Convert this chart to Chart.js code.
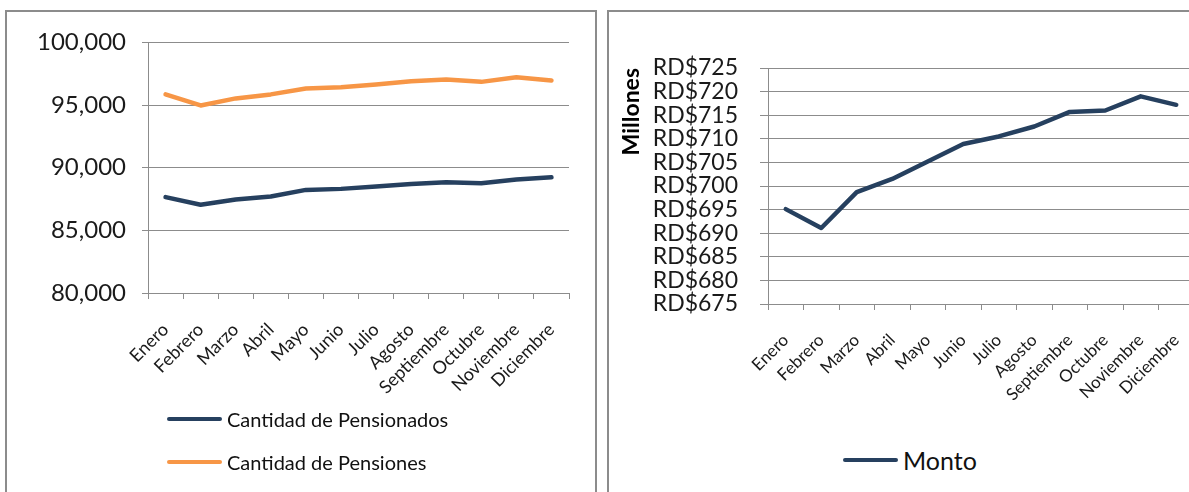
<!DOCTYPE html>
<html>
<head>
<meta charset="utf-8">
<script src="https://cdn.jsdelivr.net/npm/chart.js@4/dist/chart.umd.min.js"></script>
<style>
  body { margin: 0; width: 1189px; height: 492px; overflow: hidden; background: #fff; font-family: Lato, sans-serif; position: relative; }
  .box { position: absolute; top: 10px; height: 600px; border: 2px solid #8c8c8c; border-bottom: none; }
  #boxL { left: 5px; width: 588px; }
  #boxR { left: 607px; width: 640px; }
  canvas { position: absolute; left: 0; top: 0; }
  .legend { position: absolute; color: #111; }
  .legend .item { display: flex; align-items: center; white-space: nowrap; }
  .legend .swatch { display: inline-block; width: 55px; height: 4px; border-radius: 2px; margin-right: 5px; }
</style>
</head>
<body>
<div class="box" id="boxL"><canvas id="chartL" width="588" height="410"></canvas></div>
<div class="box" id="boxR"><canvas id="chartR" width="620" height="410"></canvas></div>
<div class="legend" id="legendL" style="left:167px; top:407px; font-size:20px;"></div>
<div class="legend" id="legendR" style="left:843px; top:445px; font-size:25px;"></div>
<script>
var meses = ['Enero', 'Febrero', 'Marzo', 'Abril', 'Mayo', 'Junio', 'Julio', 'Agosto', 'Septiembre', 'Octubre', 'Noviembre', 'Diciembre'];
var pensionados = [87650, 87040, 87460, 87700, 88230, 88310, 88490, 88700, 88840, 88760, 89050, 89230];
var pensiones = [95850, 94970, 95530, 95850, 96320, 96430, 96640, 96900, 97040, 96850, 97220, 96960];
var monto = [695.1, 691.1, 698.7, 701.5, 705.2, 708.9, 710.5, 712.6, 715.7, 716.0, 719.0, 717.2];

var navy = '#26405f';
var orange = '#f79646';
var gridColor = '#8c8c8c';
var textColor = '#1a1a1a';

Chart.defaults.font.family = 'Lato, sans-serif';
Chart.defaults.color = textColor;

function lineSet(label, data, color) {
    return {
        label: label,
        data: data,
        borderColor: color,
        backgroundColor: color,
        borderWidth: 4.5,
        pointRadius: 0,
        tension: 0,
        borderJoinStyle: 'round',
        borderCapStyle: 'round'
    };
}

function htmlLegend(chart, id) {
    var box = document.getElementById(id);
    chart.data.datasets.forEach(function (ds, i) {
        var item = document.createElement('div');
        item.className = 'item';
        if (i > 0) item.style.marginTop = '19px';
        item.innerHTML = '<span class="swatch" style="background:' + ds.borderColor + '"></span><span>' + ds.label + '</span>';
        box.appendChild(item);
    });
}

var chartL = new Chart(document.getElementById('chartL').getContext('2d'), {
    type: 'line',
    data: {
        labels: meses,
        datasets: [
            lineSet('Cantidad de Pensionados', pensionados, navy),
            lineSet('Cantidad de Pensiones', pensiones, orange)
        ]
    },
    options: {
        responsive: false,
        animation: false,
        layout: { padding: { top: 29, right: 26, left: 0, bottom: 0 } },
        plugins: { legend: { display: false }, tooltip: { enabled: false } },
        scales: {
            x: {
                offset: true,
                grid: { offset: true, drawOnChartArea: false, tickLength: 6, color: gridColor },
                border: { color: gridColor },
                ticks: { minRotation: 45, maxRotation: 45, autoSkip: false, padding: 20, font: { size: 18 } },
                afterFit: function (s) { s.height = 129; }
            },
            y: {
                min: 80000,
                max: 100000,
                grid: { color: gridColor, tickLength: 6 },
                border: { color: gridColor },
                ticks: {
                    stepSize: 5000,
                    padding: 16,
                    font: { size: 24 },
                    callback: function (v) { return v.toLocaleString('en-US'); }
                },
                afterFit: function (s) { s.width = 141; }
            }
        }
    }
});
htmlLegend(chartL, 'legendL');

var chartR = new Chart(document.getElementById('chartR').getContext('2d'), {
    type: 'line',
    data: {
        labels: meses,
        datasets: [lineSet('Monto', monto, navy)]
    },
    options: {
        responsive: false,
        animation: false,
        layout: { padding: { top: 56, right: 35, left: 0, bottom: 0 } },
        plugins: { legend: { display: false }, tooltip: { enabled: false } },
        scales: {
            x: {
                offset: true,
                grid: { offset: true, drawOnChartArea: false, tickLength: 6, color: gridColor },
                border: { color: gridColor },
                ticks: { minRotation: 45, maxRotation: 45, autoSkip: false, padding: 20, font: { size: 17 } },
                afterFit: function (s) { s.height = 118; }
            },
            y: {
                min: 675,
                max: 725,
                grid: { color: gridColor, tickLength: 8 },
                border: { color: gridColor },
                title: {
                    display: true,
                    text: 'Millones',
                    align: 'end',
                    color: '#000',
                    padding: { top: 9, bottom: 0 },
                    font: { size: 23, weight: 'bold' }
                },
                ticks: {
                    stepSize: 5,
                    autoSkip: false,
                    padding: 22,
                    font: { size: 23 },
                    callback: function (v) { return 'RD$' + v; }
                },
                afterFit: function (s) { s.width = 159; }
            }
        }
    }
});
htmlLegend(chartR, 'legendR');
</script>
</body>
</html>
